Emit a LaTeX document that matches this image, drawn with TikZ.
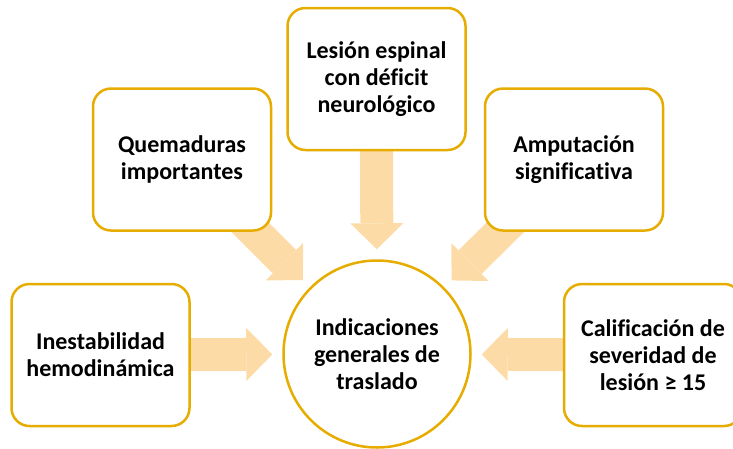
\documentclass[tikz,border=0pt]{standalone}
\usepackage{fontspec}
\setmainfont[Ligatures=CommonOff]{Carlito}
\usepackage{tikz}
\usetikzlibrary{positioning}
\usetikzlibrary{arrows.meta}
\usetikzlibrary{backgrounds}
\usepackage{xcolor}
\definecolor{gold}{HTML}{E6AC00}
\definecolor{peach}{HTML}{FDDBA7}
\tikzset{
  box/.style={draw=gold, line width=2.5pt, rounded corners=18pt, fill=white, minimum width=178pt, minimum height=142pt, align=center, font=\fontsize{24}{27}\selectfont\bfseries},
  hub/.style={circle, draw=gold, line width=2.5pt, fill=white, minimum size=187pt, inner sep=0pt, align=center, font=\fontsize{24}{27}\selectfont\bfseries},
  fatarrow/.style={draw=peach, line width=33pt, -{Triangle[length=26pt, width=53pt, line width=0pt]}, shorten >=10pt}
}

\begin{document}
\begin{tikzpicture}[x=1pt, y=-1pt]
		\useasboundingbox (0,0) rectangle (733,448);
		\node[hub] (ind) at (377,354) {Indicaciones\\generales de\\traslado};
		\node[box] (ines) at (100.5,355) {Inestabilidad\\hemodinámica};
		\node[box] (quem) at (182,159.5) {Quemaduras\\importantes};
		\node[box] (lesion) at (376.5,79) {Lesión espinal\\con déficit\\neurológico};
		\node[box] (amp) at (574,159.5) {Amputación\\significativa};
		\node[box] (calif) at (653,355) {Calificación de\\severidad de\\lesión ≥ 15};
		\begin{scope}[on background layer]
			\draw[fatarrow] (ines.center) -- (ind);
			\draw[fatarrow] (quem.center) -- (ind);
			\draw[fatarrow] (lesion.center) -- (ind);
			\draw[fatarrow] (amp.center) -- (ind);
			\draw[fatarrow] (calif.center) -- (ind);
		\end{scope}
\end{tikzpicture}
\end{document}
